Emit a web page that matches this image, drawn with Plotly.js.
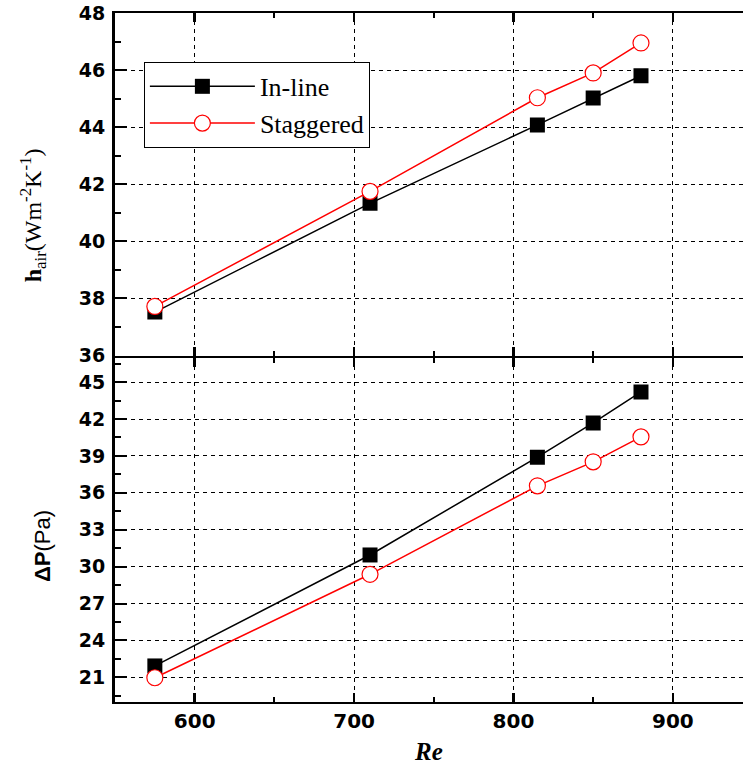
<!DOCTYPE html>
<html>
<head>
<meta charset="utf-8">
<script src="https://cdn.plot.ly/plotly-3.0.1.min.js"></script>
<style>html,body{margin:0;padding:0;background:#fff;overflow:hidden;}</style>
</head>
<body>
<div id="chart" style="width:743px;height:767px;"></div>
<script>
// Reynolds numbers
const reValues = [575, 710, 815, 850, 880];
// Heat transfer coefficient h_air (W m^-2 K^-1)
const hInline = [37.52, 41.33, 44.08, 45.02, 45.80];
const hStaggered = [37.72, 41.75, 45.03, 45.90, 46.95];
// Pressure drop ΔP (Pa)
const dpInline = [21.93, 30.95, 38.90, 41.68, 44.20];
const dpStaggered = [20.97, 29.38, 36.57, 38.52, 40.55];
const seriesNames = ["In-line", "Staggered"];
const hTitle = "<b>h</b><sub>air</sub>(Wm<sup>-2</sup>K<sup>-1</sup>)";
const dpTitle = "<b>ΔP</b>(Pa)";
const xTitle = "<b><i>Re</i></b>";

const lineBlack = {color: "#000000", width: 1.5};
const lineRed = {color: "#ff0000", width: 1.5};
const mkSquare = {symbol: "square", size: 15, color: "#000000", line: {width: 0}};
const mkCircle = {symbol: "circle", size: 16, color: "#ffffff", line: {color: "#ff0000", width: 1.2}};

const traces = [
  {x: reValues, y: hInline, xaxis: "x2", yaxis: "y2", mode: "lines+markers", name: seriesNames[0],
   legendgroup: "a", line: lineBlack, marker: mkSquare},
  {x: reValues, y: hStaggered, xaxis: "x2", yaxis: "y2", mode: "lines+markers", name: seriesNames[1],
   legendgroup: "b", line: lineRed, marker: mkCircle},
  {x: reValues, y: dpInline, xaxis: "x", yaxis: "y", mode: "lines+markers", name: seriesNames[0],
   legendgroup: "a", showlegend: false, line: lineBlack, marker: mkSquare},
  {x: reValues, y: dpStaggered, xaxis: "x", yaxis: "y", mode: "lines+markers", name: seriesNames[1],
   legendgroup: "b", showlegend: false, line: lineRed, marker: mkCircle}
];

const yTickFont = {family: "DejaVu Sans, sans-serif", size: 19, color: "#000", weight: "bold"};
const xTickFont = {family: "DejaVu Sans, sans-serif", size: 20, color: "#000", weight: "bold"};
const gridCommon = {showgrid: true, gridcolor: "#000", gridwidth: 1, griddash: "4px,4px"};

const layout = {
  width: 743, height: 767,
  margin: {l: 115, r: 0, t: 13, b: 65},
  paper_bgcolor: "#fff", plot_bgcolor: "rgba(0,0,0,0)",
  showlegend: true,
  legend: {
    x: 0.046, y: 0.929, xanchor: "left", yanchor: "top",
    bgcolor: "#fff", bordercolor: "#000", borderwidth: 1,
    font: {family: "Liberation Serif, Times New Roman, serif", size: 26, color: "#000"},
    itemwidth: 105, tracegroupgap: 0
  },
  xaxis: Object.assign({}, gridCommon, {
    anchor: "y", domain: [0, 1], range: [550, 944],
    tickmode: "linear", tick0: 600, dtick: 100,
    ticks: "inside", ticklen: 9, tickwidth: 2.5, tickcolor: "#000",
    minor: {dtick: 50, ticks: "inside", ticklen: 5, tickwidth: 2, tickcolor: "#000", showgrid: false},
    showline: true, linewidth: 2, linecolor: "#000", mirror: "ticks",
    tickfont: xTickFont, zeroline: false,
    title: {text: xTitle, font: {family: "Liberation Serif, Times New Roman, serif", size: 25, color: "#000"}, standoff: 10}
  }),
  xaxis2: Object.assign({}, gridCommon, {
    anchor: "y2", matches: "x", range: [550, 944],
    tickmode: "linear", tick0: 600, dtick: 100,
    ticks: "inside", ticklen: 9, tickwidth: 2.5, tickcolor: "#000",
    minor: {dtick: 50, ticks: "inside", ticklen: 5, tickwidth: 2, tickcolor: "#000", showgrid: false},
    showline: true, linewidth: 2, linecolor: "#000", mirror: "ticks",
    showticklabels: false, zeroline: false
  }),
  yaxis: Object.assign({}, gridCommon, {
    anchor: "x", domain: [0, 0.5], range: [19, 47],
    tickmode: "linear", tick0: 21, dtick: 3,
    ticks: "inside", ticklen: 12, tickwidth: 2, tickcolor: "#000",
    minor: {dtick: 1.5, tick0: 19.5, ticks: "inside", ticklen: 6, tickwidth: 2, tickcolor: "#000", showgrid: false},
    showline: true, linewidth: 3, linecolor: "#000", mirror: false,
    tickfont: yTickFont, zeroline: false, ticklabelstandoff: 3
  }),
  yaxis2: Object.assign({}, gridCommon, {
    anchor: "x2", domain: [0.5029, 1], range: [36, 48],
    tickmode: "linear", tick0: 36, dtick: 2,
    ticks: "inside", ticklen: 12, tickwidth: 2, tickcolor: "#000",
    minor: {dtick: 1, ticks: "inside", ticklen: 6, tickwidth: 2, tickcolor: "#000", showgrid: false},
    showline: true, linewidth: 3, linecolor: "#000", mirror: false,
    tickfont: yTickFont, zeroline: false, ticklabelstandoff: 3
  }),
  annotations: [
    {text: hTitle, xref: "paper", yref: "paper", x: -0.131, y: 0.706, xanchor: "center", yanchor: "middle",
     textangle: -90, showarrow: false,
     font: {family: "Liberation Serif, Times New Roman, serif", size: 24, color: "#000"}},
    {text: dpTitle, xref: "paper", yref: "paper", x: -0.115, y: 0.226, xanchor: "center", yanchor: "middle",
     textangle: -90, showarrow: false,
     font: {family: "Liberation Sans, Arial, sans-serif", size: 22, color: "#000"}}
  ]
};

Plotly.newPlot("chart", traces, layout, {displayModeBar: false, staticPlot: true});
</script>
</body>
</html>
